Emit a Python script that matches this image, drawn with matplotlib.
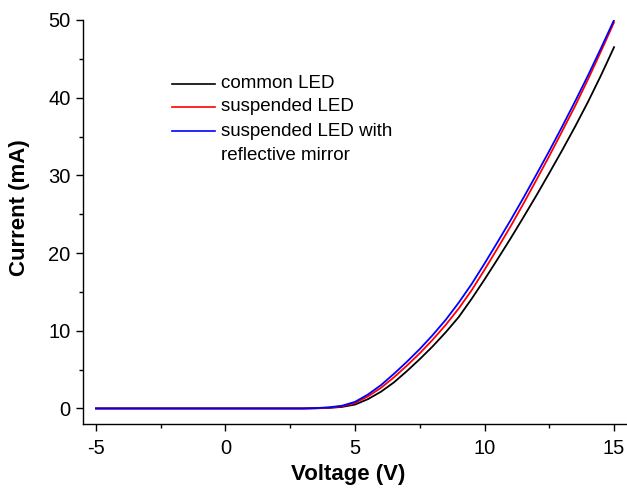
import matplotlib.pyplot as plt
from matplotlib.ticker import MultipleLocator

plt.rcParams['font.family'] = ['Liberation Sans', 'DejaVu Sans']
plt.rcParams['axes.unicode_minus'] = False

# I-V curves of the three LED types
voltage = [-5, -4, -3, -2, -1, 0, 1, 2, 3, 3.5, 4, 4.5, 5, 5.5, 6, 6.5, 7, 7.5,
           8, 8.5, 9, 9.5, 10, 10.5, 11, 11.5, 12, 12.5, 13, 13.5, 14, 14.5, 15]
common_led = [0, 0, 0, 0, 0, 0, 0, 0, 0, 0.02, 0.07, 0.2, 0.5, 1.2, 2.15, 3.35, 4.8, 6.35,
              8.0, 9.8, 11.75, 14.1, 16.6, 19.2, 21.85, 24.6, 27.4, 30.3, 33.25, 36.3,
              39.5, 42.9, 46.5]
suspended_led = [0, 0, 0, 0, 0, 0, 0, 0, 0, 0.03, 0.1, 0.28, 0.7, 1.55, 2.65, 4.0, 5.5, 7.1,
                 8.85, 10.75, 12.85, 15.2, 17.85, 20.6, 23.4, 26.35, 29.4, 32.5, 35.7, 38.95,
                 42.4, 46.0, 49.7]
mirror_led = [0, 0, 0, 0, 0, 0, 0, 0, 0, 0.05, 0.15, 0.35, 0.85, 1.8, 3.0, 4.45, 6.0, 7.65,
              9.45, 11.4, 13.6, 16.0, 18.65, 21.4, 24.2, 27.1, 30.1, 33.15, 36.3, 39.55,
              42.9, 46.4, 50.0]

labels = ["common LED", "suspended LED", "suspended LED with"]
colors = ["black", "red", "blue"]

fig = plt.figure(figsize=(6.27, 4.9), dpi=100)
ax = fig.add_axes([0.1324, 0.1347, 0.8676, 0.8245])

for y, c in zip([common_led, suspended_led, mirror_led], colors):
    ax.plot(voltage, y, color=c, lw=1.3)

ax.set_xlim(-5.5, 15.5)
ax.set_ylim(-2, 50)

ax.spines['top'].set_visible(False)
ax.spines['right'].set_visible(False)
for s in ['left', 'bottom']:
    ax.spines[s].set_linewidth(1.0)

ax.xaxis.set_major_locator(MultipleLocator(5))
ax.xaxis.set_minor_locator(MultipleLocator(2.5))
ax.yaxis.set_major_locator(MultipleLocator(10))
ax.yaxis.set_minor_locator(MultipleLocator(5))
ax.tick_params(which='major', direction='out', length=5, width=1.0, labelsize=14.5)
ax.tick_params(which='minor', direction='out', length=3, width=1.0)
ax.tick_params(axis='x', which='major', pad=6)
ax.tick_params(axis='y', which='major', pad=4)

ax.set_xlabel("Voltage (V)", fontsize=16, fontweight='bold')
ax.set_ylabel("Current (mA)", fontsize=16, fontweight='bold')
ax.xaxis.set_label_coords(0.487, -0.099)
ax.yaxis.set_label_coords(-0.097, 0.535)

# legend drawn as short line samples with text next to them
rows = [0.8416, 0.7847, 0.7252]
for r, c, lab in zip(rows, colors, labels):
    ax.plot([0.1636, 0.2426], [r, r], color=c, lw=1.2, transform=ax.transAxes)
    ax.text(0.2537, r, lab, transform=ax.transAxes, fontsize=13.5, va='center')
ax.text(0.2537, 0.6658, "reflective mirror", transform=ax.transAxes,
        fontsize=13.5, va='center')

fig.savefig('out.png', dpi=100)
